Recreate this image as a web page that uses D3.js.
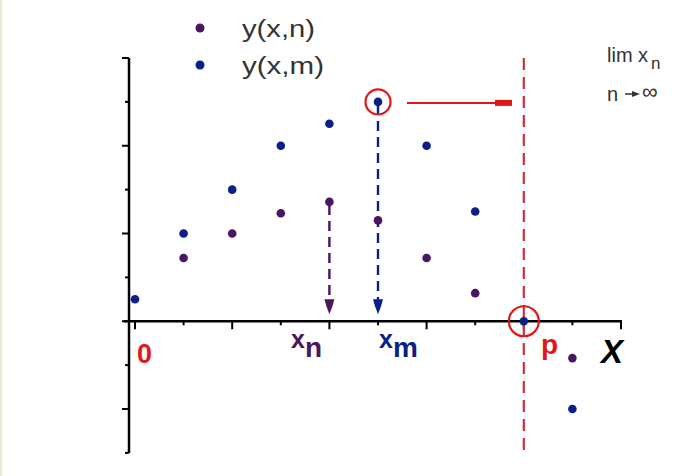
<!DOCTYPE html>
<html>
<head>
<meta charset="utf-8">
<script src="https://cdn.jsdelivr.net/npm/d3@7"></script>
<style>
  body { margin: 0; background: #fff; }
  svg { display: block; }
</style>
</head>
<body>
<div id="chart"></div>
<script>
//Datos
const xs = [0, 1, 2, 3, 4, 5, 6, 7, 8, 9];
const yM = [0.25, 1.0, 1.5, 2.0, 2.25, 2.5, 2.0, 1.25, 0, -1.0];
const yN = [null, 0.72, 1.0, 1.23, 1.36, 1.15, 0.72, 0.32, null, -0.42];
const yTicksMajor = [3, 2, 1, 0, -1];
const yTicksMinor = [2.5, 1.5, 0.5, -0.5, -1.5];
const xTicksMajor = [0, 2, 4, 6, 8, 10];
const xTicksMinor = [1, 3, 5, 7, 9];
const idxN = 4, idxM = 5, xLimit = 8;

//Colores
const COLOR_N = '#4b1560',
COLOR_M = '#0b1f86',
COLOR_RED = '#e01818',
COLOR_RED_DASH = '#d0303a';

const width = 696, height = 476;

let svg = d3.select('#chart')
    .append('svg')
        .attr('width', width)
        .attr('height', height);

// franja izquierda
svg.append('rect').attr('x', 0).attr('y', 0).attr('width', 2).attr('height', height).attr('fill', '#efe8d4');

let x = d3.scaleLinear().domain([0, 10]).range([135, 621]);
let y = d3.scaleLinear().domain([-1, 3]).range([409, 58]);

// Eje Y
const yMin = -1.5;
svg.append('line')
    .attr('x1', 129).attr('x2', 129)
    .attr('y1', y(3)).attr('y2', y(yMin))
    .attr('stroke', '#000').attr('stroke-width', 2.5);
svg.selectAll('.ytick-maj')
    .data(yTicksMajor).enter().append('line')
    .attr('x1', 122).attr('x2', 129)
    .attr('y1', d => y(d)).attr('y2', d => y(d))
    .attr('stroke', '#000').attr('stroke-width', 2);
svg.selectAll('.ytick-min')
    .data(yTicksMinor).enter().append('line')
    .attr('x1', 125).attr('x2', 129)
    .attr('y1', d => y(d)).attr('y2', d => y(d))
    .attr('stroke', '#000').attr('stroke-width', 2);

// Eje X
svg.append('line')
    .attr('x1', 124).attr('x2', x(10) + 1)
    .attr('y1', y(0)).attr('y2', y(0))
    .attr('stroke', '#000').attr('stroke-width', 2.5);
svg.selectAll('.xtick-maj')
    .data(xTicksMajor).enter().append('line')
    .attr('x1', d => x(d)).attr('x2', d => x(d))
    .attr('y1', y(0)).attr('y2', y(0) + 8)
    .attr('stroke', '#000').attr('stroke-width', 2);
svg.selectAll('.xtick-min')
    .data(xTicksMinor).enter().append('line')
    .attr('x1', d => x(d)).attr('x2', d => x(d))
    .attr('y1', y(0)).attr('y2', y(0) + 4)
    .attr('stroke', '#000').attr('stroke-width', 2);

// Linea limite
svg.append('line')
    .attr('x1', x(xLimit)).attr('x2', x(xLimit))
    .attr('y1', 58).attr('y2', 456)
    .attr('stroke', COLOR_RED_DASH).attr('stroke-width', 2.2)
    .attr('stroke-dasharray', '12,7');

// Flechas punteadas
function dashArrow(xv, yv, color) {
    let xp = x(xv);
    svg.append('line')
        .attr('x1', xp).attr('x2', xp)
        .attr('y1', y(yv) + 3).attr('y2', y(0) - 20)
        .attr('stroke', color).attr('stroke-width', 2.4)
        .attr('stroke-dasharray', '10,6');
    let yb = y(0);
    svg.append('path')
        .attr('d', `M${xp - 5},${yb - 22} L${xp + 5},${yb - 22} L${xp + 3},${yb - 15} L${xp},${yb - 7} L${xp - 3},${yb - 15} Z`)
        .attr('fill', color);
}
dashArrow(idxN, yN[idxN], COLOR_N);
dashArrow(idxM, yM[idxM], COLOR_M);

// Puntos
svg.selectAll('.dotN')
    .data(xs.filter((d, i) => yN[i] !== null)).enter().append('circle')
    .attr('cx', d => x(d)).attr('cy', d => y(yN[d]))
    .attr('r', 4.3).attr('fill', COLOR_N);
svg.selectAll('.dotM')
    .data(xs).enter().append('circle')
    .attr('cx', d => x(d)).attr('cy', d => y(yM[d]))
    .attr('r', 4.3).attr('fill', COLOR_M);

// Circulos rojos
svg.append('circle')
    .attr('cx', x(idxM)).attr('cy', y(yM[idxM]))
    .attr('r', 12.5).attr('fill', 'none')
    .attr('stroke', COLOR_RED).attr('stroke-width', 2.2);
svg.append('circle')
    .attr('cx', x(xLimit)).attr('cy', y(0))
    .attr('r', 15).attr('fill', 'none')
    .attr('stroke', COLOR_RED).attr('stroke-width', 2.2);

// Flecha roja horizontal
svg.append('line')
    .attr('x1', 407).attr('x2', 497)
    .attr('y1', y(yM[idxM]) + 1).attr('y2', y(yM[idxM]) + 1)
    .attr('stroke', COLOR_RED).attr('stroke-width', 2);
svg.append('rect')
    .attr('x', 495).attr('y', y(yM[idxM]) - 2)
    .attr('width', 17).attr('height', 6)
    .attr('fill', COLOR_RED);

// Etiquetas eje
const font = 'Arial, "Liberation Sans", sans-serif';
svg.append('text')
    .attr('x', 137).attr('y', 363)
    .attr('font-family', font).attr('font-size', 27).attr('font-weight', 'bold')
    .attr('fill', COLOR_RED).text('0');

function subLabel(xp, main, sub, color) {
    svg.append('text')
        .attr('x', xp).attr('y', 348)
        .attr('font-family', font).attr('font-size', 25).attr('font-weight', 'bold')
        .attr('fill', color).text(main);
    svg.append('text')
        .attr('x', xp + 14).attr('y', 357)
        .attr('font-family', font).attr('font-size', 28).attr('font-weight', 'bold')
        .attr('fill', color).text(sub);
}
subLabel(291, 'x', 'n', COLOR_N);
subLabel(379, 'x', 'm', COLOR_M);

svg.append('text')
    .attr('x', 541).attr('y', 354)
    .attr('font-family', font).attr('font-size', 28).attr('font-weight', 'bold')
    .attr('fill', COLOR_RED).text('p');
svg.append('text')
    .attr('x', 601).attr('y', 363)
    .attr('font-family', font).attr('font-size', 33).attr('font-weight', 'bold')
    .attr('font-style', 'italic')
    .attr('fill', '#000').text('X');

// Leyenda
const legend = [{label: 'y(x,n)', color: COLOR_N, yp: 28}, {label: 'y(x,m)', color: COLOR_M, yp: 65}];
legend.forEach(function(l) {
    svg.append('circle').attr('cx', 200).attr('cy', l.yp).attr('r', 4.5).attr('fill', l.color);
    svg.append('text')
        .attr('x', 242).attr('y', l.yp + 9)
        .attr('font-family', font).attr('font-size', 23)
        .attr('textLength', l.label === 'y(x,n)' ? 73 : 82)
        .attr('lengthAdjust', 'spacingAndGlyphs')
        .attr('fill', '#333').text(l.label);
});

// Limite
svg.append('text')
    .attr('x', 607).attr('y', 62)
    .attr('font-family', font).attr('font-size', 20).attr('fill', '#333')
    .text('lim x');
svg.append('text')
    .attr('x', 651).attr('y', 69)
    .attr('font-family', font).attr('font-size', 17).attr('fill', '#333')
    .text('n');
svg.append('text')
    .attr('x', 607).attr('y', 101)
    .attr('font-family', font).attr('font-size', 20).attr('fill', '#333')
    .text('n');
svg.append('line')
    .attr('x1', 625).attr('x2', 636).attr('y1', 94).attr('y2', 94)
    .attr('stroke', '#333').attr('stroke-width', 1.5);
svg.append('path')
    .attr('d', 'M632,91 L640,94 L632,97 Z').attr('fill', '#333');
svg.append('text')
    .attr('x', 642).attr('y', 99)
    .attr('font-family', font).attr('font-size', 22).attr('fill', '#333')
    .text('∞');
</script>
</body>
</html>
